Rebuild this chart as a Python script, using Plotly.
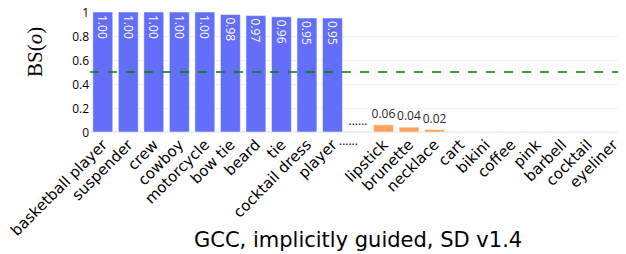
import plotly.graph_objects as go

categories = ["basketball player", "suspender", "crew", "cowboy", "motorcycle", "bow tie",
              "beard", "tie", "cocktail dress", "player", " ",
              "lipstick", "brunette", "necklace", "cart", "bikini", "coffee", "pink",
              "barbell", "cocktail", "eyeliner"]
top_values = [1.00, 1.00, 1.00, 1.00, 1.00, 0.98, 0.97, 0.96, 0.95, 0.95]
bottom_values = [0.06, 0.04, 0.02, 0.0, 0.0, 0.0, 0.0, 0.0, 0.0, 0.0]
threshold = 0.5
gap_label = "......"
x_title = "GCC, implicitly guided, SD v1.4"
y_title = "BS(<i>o</i>)"

BLUE = "#636EFA"
ORANGE = "#FFA15A"

fig = go.Figure()
fig.add_bar(
    x=categories[:10], y=top_values,
    marker=dict(color=BLUE, line=dict(color="white", width=0.5)),
    text=[f"{v:.2f}" for v in top_values], textposition="inside",
    insidetextanchor="end", textangle=90,
    textfont=dict(color="white", size=12, family="Open Sans"),
    showlegend=False,
)
fig.add_bar(
    x=[categories[10]], y=[0],
    marker=dict(color=ORANGE, line=dict(width=0)),
    text=[gap_label], textposition="outside", cliponaxis=False,
    textfont=dict(color="black", size=12, family="Open Sans"),
    showlegend=False,
)
fig.add_bar(
    x=categories[11:], y=bottom_values,
    marker=dict(color=ORANGE, line=dict(color="white", width=0.5)),
    text=[f"{v:.2f}" if v >= 0.01 else "" for v in bottom_values],
    textposition="outside", textangle=0, cliponaxis=False,
    textfont=dict(color="#2a2a2a", size=11, family="Open Sans"),
    showlegend=False,
)
fig.add_hline(y=threshold, line=dict(color="green", dash="dash", width=1.5))

fig.add_annotation(x=categories[10], y=0, xref="x", yref="paper", text=gap_label,
                   showarrow=False, yanchor="top", yshift=2, xshift=-10,
                   font=dict(family="Open Sans", size=12, color="black"))
fig.add_annotation(x=0.5, y=-0.9, xref="paper", yref="paper", text=x_title,
                   showarrow=False, yanchor="middle", xanchor="center",
                   font=dict(family="DejaVu Sans", size=21, color="black"))
fig.add_annotation(x=-0.1026, y=0.667, xref="paper", yref="paper", text=y_title,
                   showarrow=False, yanchor="middle", xanchor="center", textangle=-90,
                   font=dict(family="Liberation Serif", size=21, color="black"))

fig.update_layout(
    template="plotly_white",
    width=626, height=254,
    margin=dict(l=82, r=8, t=4, b=130),
    barmode="overlay",
    bargap=0.22,
    uniformtext=dict(minsize=12, mode="show"),
    font=dict(family="Open Sans", color="#2a3f5f"),
    xaxis=dict(
        categoryorder="array", categoryarray=categories, automargin=False,
        tickangle=-45, tickfont=dict(family="DejaVu Sans", size=15, color="black"),
        showgrid=False,
    ),
    yaxis=dict(
        range=[0, 1], automargin=False, ticklabeloverflow="allow", ticklabelshift=1,
        tickvals=[0, 0.2, 0.4, 0.6, 0.8, 1], ticktext=["0", "0.2", "0.4", "0.6", "0.8", "1"],
        tickfont=dict(family="Open Sans", size=12, color="black"),
        gridcolor="#EBF0F8", zeroline=True, zerolinecolor="#EBF0F8",
    ),
)

fig.write_html("out.html")
